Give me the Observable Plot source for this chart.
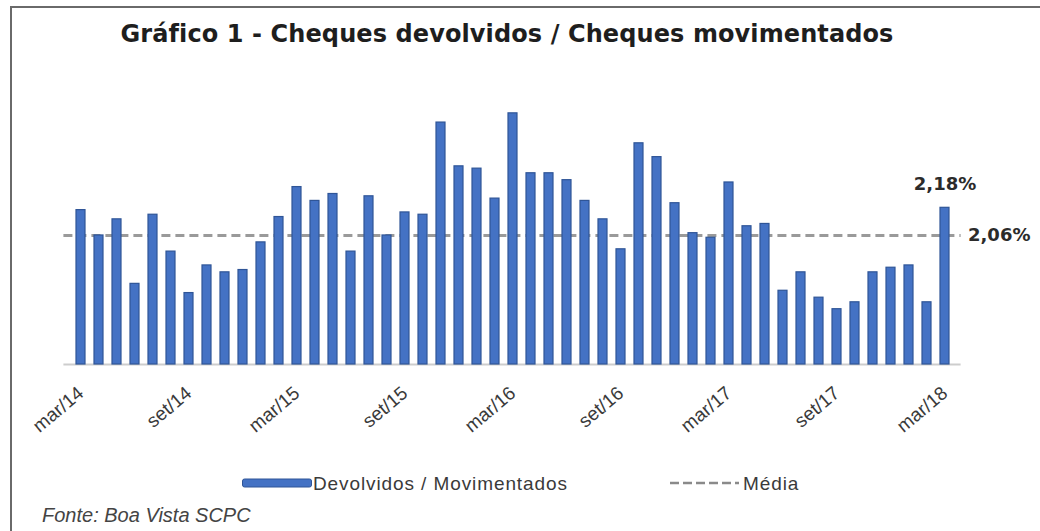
<!DOCTYPE html>
<html><head><meta charset="utf-8">
<script src="https://cdn.jsdelivr.net/npm/d3@7"></script>
<script src="https://cdn.jsdelivr.net/npm/@observablehq/plot@0.6"></script>
<style>
body{margin:0;background:#fff;}
#wrap{position:relative;width:1040px;height:531px;overflow:hidden;background:#fff;font-family:"Liberation Sans",Arial,sans-serif;}
#chart{position:absolute;left:0;top:60px;}
.fr{position:absolute;background:#6a6a6a;}
#title{position:absolute;left:0;width:1014px;top:22px;text-align:center;font-family:"DejaVu Sans",sans-serif;font-weight:bold;font-size:24px;line-height:24px;color:#1e1e1e;white-space:nowrap;letter-spacing:0.1px;}
#legend{position:absolute;left:0;top:474px;height:20px;width:1040px;font-size:19px;line-height:20px;color:#3a3a3a;letter-spacing:0.9px;}
#legend .it{position:absolute;top:0;display:flex;align-items:center;}
#caption{position:absolute;left:42px;top:505px;font-size:20px;line-height:20px;font-style:italic;color:#444;}
</style>
</head><body>
<div id="wrap">
  <div id="chart"></div>
  <div id="title"></div>
  <div id="legend"></div>
  <div id="caption"></div>
  <div class="fr" style="left:10px;top:6px;width:1030px;height:2px;"></div>
  <div class="fr" style="left:10px;top:6px;width:2px;height:525px;"></div>
</div>
<script>
// ---- data ----
const titleText = "Gráfico 1 - Cheques devolvidos / Cheques movimentados";
const sourceText = "Fonte: Boa Vista SCPC";
const seriesName = "Devolvidos / Movimentados";
const meanName = "Média";
const monthNames = ["jan","fev","mar","abr","mai","jun","jul","ago","set","out","nov","dez"];
const startYear = 2014, startMonth = 2; // mar/14
// Devolvidos / Movimentados (%), mar/14 .. mar/18
const values = [
  2.17, 2.06, 2.13, 1.85, 2.15, 1.99, 1.81, 1.93, 1.90, 1.91, 2.03, 2.14,
  2.27, 2.21, 2.24, 1.99, 2.23, 2.06, 2.16, 2.15, 2.55, 2.36, 2.35, 2.22,
  2.59, 2.33, 2.33, 2.30, 2.21, 2.13, 2.00, 2.46, 2.40, 2.20, 2.07, 2.05,
  2.29, 2.10, 2.11, 1.82, 1.90, 1.79, 1.74, 1.77, 1.90, 1.92, 1.93, 1.77,
  2.18
];
const meanValue = 2.06;
const tickLabels = ["mar/14","set/14","mar/15","set/15","mar/16","set/16","mar/17","set/17","mar/18"];
const yMin = 1.5, yMax = 2.7;

// ---- build ----
const months = values.map((_, i) => {
  const k = startMonth + i;
  const y = startYear + Math.floor(k / 12);
  return monthNames[k % 12] + "/" + String(y).slice(2);
});
const data = values.map((v, i) => ({m: months[i], v}));
const fmt = v => v.toFixed(2).replace(".", ",") + "%";
const last = data[data.length - 1];

const blue = "#4472c4", blueEdge = "#2f5597";

const plot = Plot.plot({
  width: 1040,
  height: 380,
  marginLeft: 63.4,
  marginRight: 79.4,
  marginTop: 27.5,
  marginBottom: 76,
  style: {background: "transparent", fontFamily: "'Liberation Sans', Arial, sans-serif"},
  x: {type: "band", domain: months, padding: 0.5, axis: null, label: null},
  y: {domain: [yMin, yMax], axis: null, label: null},
  marks: [
    Plot.ruleY([yMin], {stroke: "#cdcdcd", strokeWidth: 2}),
    Plot.ruleY([meanValue], {stroke: "#9a9a9a", strokeWidth: 3, strokeDasharray: "9,5"}),
    Plot.barY(data, {x: "m", y1: yMin, y2: "v", fill: blue, stroke: blueEdge, strokeWidth: 1.2}),
    Plot.axisX({ticks: tickLabels, tickSize: 0, tickRotate: -40, tickPadding: 26, fontSize: 19, fill: "#3a3a3a", tickFormat: d => d, label: null}),
    Plot.text([last], {x: "m", y: "v", text: d => fmt(d.v), dy: -24, fontSize: 18, fontWeight: "bold", fill: "#2b2b2b", fontFamily: "'DejaVu Sans', sans-serif"}),
    Plot.text([{m: last.m, v: meanValue}], {x: "m", y: "v", text: d => fmt(d.v), dx: 23, textAnchor: "start", fontSize: 18, fontWeight: "bold", fill: "#2b2b2b", fontFamily: "'DejaVu Sans', sans-serif"})
  ]
});
document.getElementById("chart").appendChild(plot);
document.getElementById("title").textContent = titleText;
document.getElementById("caption").textContent = sourceText;

const lg = document.getElementById("legend");
lg.innerHTML = `
 <div class="it" style="left:242px;"><svg width="70" height="20"><rect x="0.5" y="5" width="69" height="8" rx="2" fill="${blue}" stroke="${blueEdge}" stroke-width="1"/></svg><span style="margin-left:1px">${seriesName}</span></div>
 <div class="it" style="left:670px;"><svg width="70" height="20"><line x1="0" x2="69" y1="9" y2="9" stroke="#8a8a8a" stroke-width="2.5" stroke-dasharray="9,4"/></svg><span style="margin-left:3px">${meanName}</span></div>`;
</script>
</body></html>
